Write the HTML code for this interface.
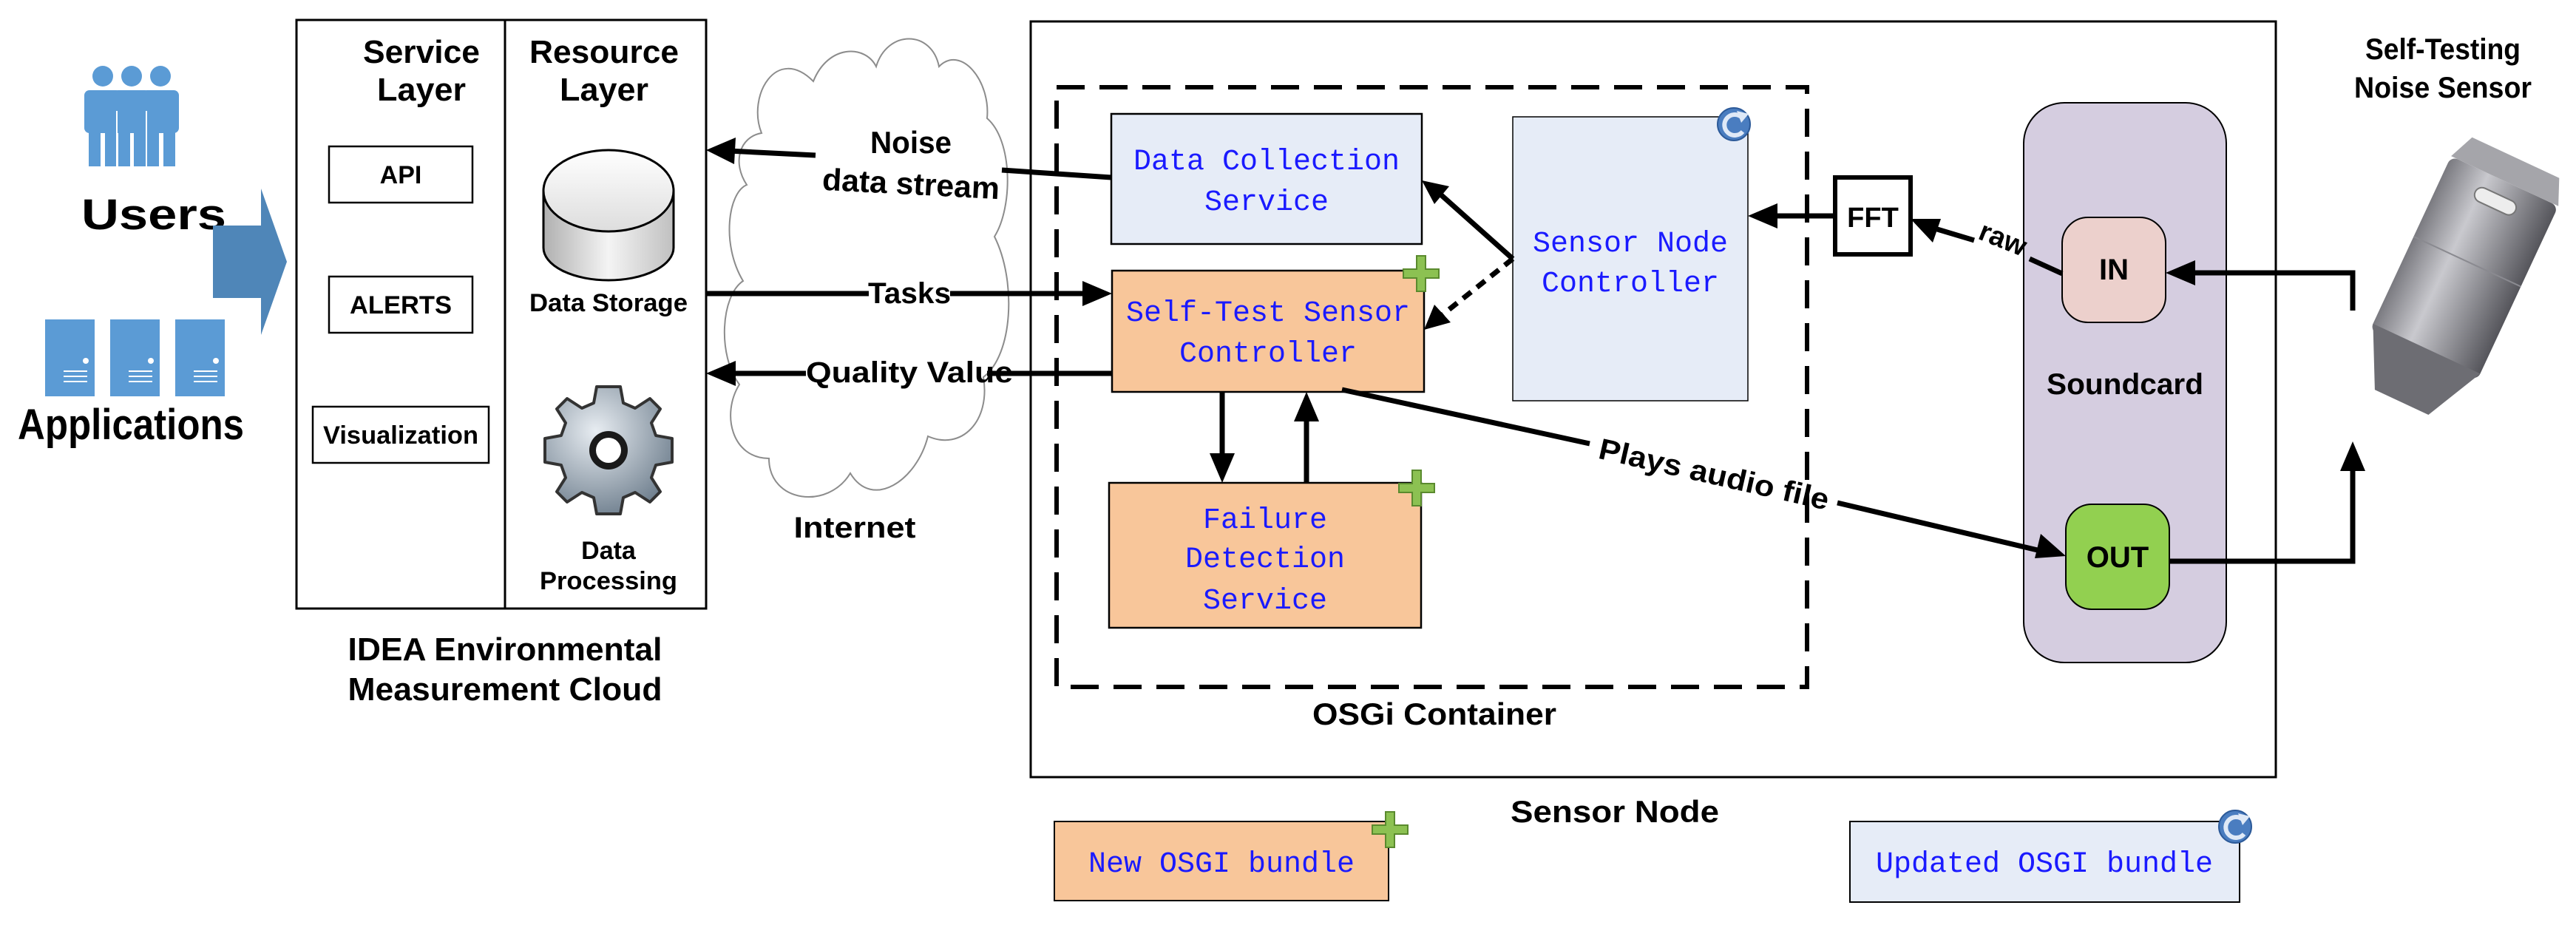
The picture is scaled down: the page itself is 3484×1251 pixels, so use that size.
<!DOCTYPE html>
<html><head><meta charset="utf-8"><style>
html,body{margin:0;padding:0;background:#fff;}
svg{display:block;}
.n{font-family:"Liberation Sans Narrow","Liberation Sans",sans-serif;font-weight:bold;fill:#000;}
.m{font-family:"Liberation Mono",monospace;fill:#1a1aff;font-size:40px;}
</style></head><body>
<svg width="3484" height="1251" viewBox="0 0 3484 1251" xmlns="http://www.w3.org/2000/svg">
<defs>
<linearGradient id="cyl" x1="0" x2="1"><stop offset="0" stop-color="#b0b0b0"/><stop offset="0.5" stop-color="#f4f4f4"/><stop offset="1" stop-color="#c0c0c0"/></linearGradient>
<linearGradient id="cyltop" x1="0" y1="0" x2="0" y2="1"><stop offset="0" stop-color="#fff"/><stop offset="1" stop-color="#ddd"/></linearGradient>
<radialGradient id="gear" cx="0.4" cy="0.35" r="0.7"><stop offset="0" stop-color="#e8edf2"/><stop offset="1" stop-color="#6f7f8e"/></radialGradient>
<linearGradient id="sens" x1="0" x2="1"><stop offset="0" stop-color="#7a7a80"/><stop offset="0.35" stop-color="#c9c9ce"/><stop offset="1" stop-color="#55555b"/></linearGradient>
</defs>

<g fill="#5b9bd5">
<circle cx="139" cy="103" r="14"/><circle cx="178" cy="103" r="14"/><circle cx="217" cy="103" r="14"/>
<rect x="114" y="122" width="50" height="58" rx="7"/><rect x="153" y="122" width="50" height="58" rx="7"/><rect x="192" y="122" width="50" height="58" rx="7"/>
<rect x="120" y="175" width="16" height="50"/><rect x="142" y="175" width="16" height="50"/>
<rect x="160" y="175" width="16" height="50"/><rect x="181" y="175" width="16" height="50"/>
<rect x="199" y="175" width="16" height="50"/><rect x="221" y="175" width="16" height="50"/>
</g>
<g stroke="#fff" stroke-width="2"><line x1="158" y1="150" x2="158" y2="225"/><line x1="198" y1="150" x2="198" y2="225"/></g>
<text class="n" x="110" y="310" font-size="58" textLength="196" lengthAdjust="spacingAndGlyphs" fill="#111">Users</text>

<g fill="#5b9bd5">
<rect x="61" y="432" width="67" height="104"/><rect x="149" y="432" width="67" height="104"/><rect x="237" y="432" width="67" height="104"/>
</g>
<g fill="#fff"><circle cx="116" cy="488" r="4"/><circle cx="204" cy="488" r="4"/><circle cx="292" cy="488" r="4"/></g>
<g stroke="#fff" stroke-width="2">
<line x1="86" y1="502" x2="118" y2="502"/><line x1="86" y1="509" x2="118" y2="509"/><line x1="86" y1="516" x2="118" y2="516"/>
<line x1="174" y1="502" x2="206" y2="502"/><line x1="174" y1="509" x2="206" y2="509"/><line x1="174" y1="516" x2="206" y2="516"/>
<line x1="262" y1="502" x2="294" y2="502"/><line x1="262" y1="509" x2="294" y2="509"/><line x1="262" y1="516" x2="294" y2="516"/>
</g>
<text class="n" x="24" y="594" font-size="58" textLength="306" lengthAdjust="spacingAndGlyphs" fill="#111">Applications</text>

<polygon points="288,305 353,305 353,255 388,354 353,453 353,403 288,403" fill="#4f86b8"/>

<rect x="401" y="27" width="554" height="796" fill="none" stroke="#000" stroke-width="3"/>
<line x1="683" y1="27" x2="683" y2="823" stroke="#000" stroke-width="3"/>
<text class="n" x="570" y="85" font-size="44" text-anchor="middle" textLength="158" lengthAdjust="spacingAndGlyphs">Service</text>
<text class="n" x="570" y="136" font-size="44" text-anchor="middle" textLength="120" lengthAdjust="spacingAndGlyphs">Layer</text>
<text class="n" x="817" y="85" font-size="44" text-anchor="middle" textLength="202" lengthAdjust="spacingAndGlyphs">Resource</text>
<text class="n" x="817" y="136" font-size="44" text-anchor="middle" textLength="120" lengthAdjust="spacingAndGlyphs">Layer</text>
<rect x="445" y="198" width="194" height="76" fill="#fff" stroke="#000" stroke-width="2.5"/>
<text class="n" x="542" y="248" font-size="34" text-anchor="middle">API</text>
<rect x="445" y="374" width="194" height="76" fill="#fff" stroke="#000" stroke-width="2.5"/>
<text class="n" x="542" y="424" font-size="34" text-anchor="middle" textLength="138" lengthAdjust="spacingAndGlyphs">ALERTS</text>
<rect x="423" y="550" width="238" height="76" fill="#fff" stroke="#000" stroke-width="2.5"/>
<text class="n" x="542" y="600" font-size="34" text-anchor="middle" textLength="210" lengthAdjust="spacingAndGlyphs">Visualization</text>
<path d="M735,258 L735,335 A88,44 0 0 0 911,335 L911,258" fill="url(#cyl)" stroke="#000" stroke-width="3"/>
<ellipse cx="823" cy="258" rx="88" ry="55" fill="url(#cyltop)" stroke="#000" stroke-width="3"/>
<text class="n" x="823" y="421" font-size="34" text-anchor="middle" textLength="214" lengthAdjust="spacingAndGlyphs">Data Storage</text>
<g transform="translate(823,609)">
<path d="M-16,-86 L16,-86 L20,-64 L36,-57 L56,-70 L70,-56 L58,-37 L64,-20 L86,-16 L86,16 L64,20 L58,37 L70,56 L56,70 L36,57 L20,64 L16,86 L-16,86 L-20,64 L-36,57 L-56,70 L-70,56 L-58,37 L-64,20 L-86,16 L-86,-16 L-64,-20 L-58,-37 L-70,-56 L-56,-70 L-36,-57 L-20,-64 Z" fill="url(#gear)" stroke="#333" stroke-width="4" stroke-linejoin="round"/>
<circle r="26" fill="#1a1a1a"/><circle r="17" fill="#fff"/>
</g>
<text class="n" x="823" y="756" font-size="34" text-anchor="middle">Data</text>
<text class="n" x="823" y="797" font-size="34" text-anchor="middle" textLength="186" lengthAdjust="spacingAndGlyphs">Processing</text>
<text class="n" x="683" y="893" font-size="44" text-anchor="middle" textLength="425" lengthAdjust="spacingAndGlyphs">IDEA Environmental</text>
<text class="n" x="683" y="947" font-size="44" text-anchor="middle" textLength="425" lengthAdjust="spacingAndGlyphs">Measurement Cloud</text>

<path d="M1030,180 C1010,130 1050,60 1100,110 C1120,60 1170,60 1185,90 C1200,40 1260,40 1270,90 C1300,60 1340,110 1335,160 C1370,190 1370,280 1345,320 C1375,380 1370,480 1330,510 C1340,570 1300,610 1255,590 C1240,650 1180,690 1150,640 C1120,690 1040,680 1040,620 C990,620 975,560 1000,520 C970,480 975,400 1005,380 C975,330 985,260 1010,250 C990,220 1000,185 1030,180 Z" fill="#fff" stroke="#8c8c8c" stroke-width="2"/>
<text class="n" x="1156" y="727" font-size="40" text-anchor="middle" textLength="165" lengthAdjust="spacingAndGlyphs">Internet</text>

<rect x="1394" y="29" width="1684" height="1022" fill="none" stroke="#000" stroke-width="3"/>
<rect x="1429" y="118" width="1015" height="811" fill="none" stroke="#000" stroke-width="6" stroke-dasharray="38,20"/>
<text class="n" x="1940" y="980" font-size="42" text-anchor="middle" textLength="330" lengthAdjust="spacingAndGlyphs">OSGi Container</text>
<text class="n" x="2184" y="1112" font-size="42" text-anchor="middle" textLength="282" lengthAdjust="spacingAndGlyphs">Sensor Node</text>

<rect x="1503" y="154" width="420" height="176" fill="#e6ecf7" stroke="#000" stroke-width="2.5"/>
<text class="m" x="1713" y="229" text-anchor="middle">Data Collection</text>
<text class="m" x="1713" y="284" text-anchor="middle">Service</text>
<rect x="1504" y="366" width="422" height="164" fill="#f8c69a" stroke="#000" stroke-width="2.5"/>
<text class="m" x="1715" y="434" text-anchor="middle">Self-Test Sensor</text>
<text class="m" x="1715" y="489" text-anchor="middle">Controller</text>
<rect x="1500" y="653" width="422" height="196" fill="#f8c69a" stroke="#000" stroke-width="2.5"/>
<text class="m" x="1711" y="714" text-anchor="middle">Failure</text>
<text class="m" x="1711" y="767" text-anchor="middle">Detection</text>
<text class="m" x="1711" y="823" text-anchor="middle">Service</text>
<rect x="2046" y="158" width="318" height="384" fill="#e6ecf7" stroke="#000" stroke-width="1.5"/>
<text class="m" x="2205" y="340" text-anchor="middle">Sensor Node</text>
<text class="m" x="2205" y="394" text-anchor="middle">Controller</text>
<rect x="2482" y="240" width="102" height="104" fill="#fff" stroke="#000" stroke-width="6"/>
<text class="n" x="2533" y="307" font-size="38" text-anchor="middle">FFT</text>

<rect x="2737" y="139" width="274" height="757" rx="55" fill="#d5cde0" stroke="#000" stroke-width="2"/>
<rect x="2789" y="294" width="140" height="142" rx="35" fill="#ecd0cc" stroke="#000" stroke-width="2"/>
<text class="n" x="2859" y="378" font-size="40" text-anchor="middle">IN</text>
<rect x="2794" y="682" width="140" height="142" rx="35" fill="#92d050" stroke="#000" stroke-width="2"/>
<text class="n" x="2864" y="767" font-size="40" text-anchor="middle">OUT</text>
<text class="n" x="2874" y="533" font-size="40" text-anchor="middle" textLength="212" lengthAdjust="spacingAndGlyphs">Soundcard</text>

<text class="n" x="3304" y="80" font-size="40" text-anchor="middle" textLength="210" lengthAdjust="spacingAndGlyphs">Self-Testing</text>
<text class="n" x="3304" y="132" font-size="40" text-anchor="middle" textLength="240" lengthAdjust="spacingAndGlyphs">Noise Sensor</text>
<g transform="rotate(25 3320 390)">
<rect x="3240" y="230" width="160" height="260" rx="10" fill="url(#sens)"/>
<path d="M3240,480 L3400,480 L3360,560 L3280,560 Z" fill="#6d6d73"/>
<path d="M3240,230 L3400,230 L3385,195 L3255,195 Z" fill="#a5a5aa"/>
<rect x="3290" y="250" width="60" height="20" rx="10" fill="#ededed" stroke="#777" stroke-width="2"/>
<line x1="3240" y1="350" x2="3400" y2="350" stroke="#8a8a90" stroke-width="2"/>
</g>

<g stroke="#000" stroke-width="7" fill="none">
<polyline points="1103,210 985,204"/>
<polyline points="1355,230 1503,240"/>
<polyline points="955,397 1175,397"/><polyline points="1285,397 1470,397"/>
<polyline points="1504,505 1335,505"/><polyline points="1090,505 990,505"/>
<polyline points="2046,350 1945,260"/>
<polyline points="2046,350 1948,428" stroke-dasharray="14,10"/>
<polyline points="2482,292 2400,292"/>
<polyline points="2789,370 2745,350"/><polyline points="2670,325 2620,310"/>
<polyline points="3182,420 3182,369 2965,369"/>
<polyline points="2934,759 3182,759 3182,630"/>
<polyline points="1815,527 2150,600"/><polyline points="2485,680 2760,745"/>
<polyline points="1653,530 1653,620"/>
<polyline points="1767,653 1767,565"/>
</g>
<g fill="#000">
<polygon points="955,203 995,186 993,222"/>
<polygon points="1504,397 1464,380 1464,414"/>
<polygon points="955,505 995,488 995,522"/>
<polygon points="1923,244 1960,252 1940,276"/>
<polygon points="1926,446 1940,412 1962,436"/>
<polygon points="2364,292 2404,275 2404,309"/>
<polygon points="2584,296 2625,296 2614,328"/>
<polygon points="2929,369 2969,352 2969,386"/>
<polygon points="3182,597 3165,637 3199,637"/>
<polygon points="2794,752 2752,755 2760,722"/>
<polygon points="1653,653 1636,613 1670,613"/>
<polygon points="1767,530 1750,570 1784,570"/>
</g>
<text class="n" x="1232" y="207" font-size="42" text-anchor="middle" textLength="110" lengthAdjust="spacingAndGlyphs">Noise</text>
<text class="n" x="1232" y="263" font-size="42" text-anchor="middle" transform="rotate(3 1232 250)" textLength="240" lengthAdjust="spacingAndGlyphs">data stream</text>
<text class="n" x="1230" y="410" font-size="40" text-anchor="middle" textLength="112" lengthAdjust="spacingAndGlyphs">Tasks</text>
<text class="n" x="1230" y="517" font-size="40" text-anchor="middle" textLength="280" lengthAdjust="spacingAndGlyphs">Quality Value</text>
<text class="n" x="2706" y="335" font-size="38" text-anchor="middle" transform="rotate(22 2706 330)">raw</text>
<text class="n" x="2318" y="655" font-size="40" text-anchor="middle" transform="rotate(12.8 2318 642)" textLength="318" lengthAdjust="spacingAndGlyphs">Plays audio file</text>

<rect x="1426" y="1111" width="452" height="107" fill="#f8c69a" stroke="#000" stroke-width="2"/>
<text class="m" x="1652" y="1179" text-anchor="middle">New OSGI bundle</text>
<rect x="2502" y="1111" width="527" height="109" fill="#e6ecf7" stroke="#000" stroke-width="2"/>
<text class="m" x="2765" y="1179" text-anchor="middle">Updated OSGI bundle</text>

<g fill="#8cc152" stroke="#5a8a2e" stroke-width="2">
<path d="M1916,346 h12 v18 h18 v12 h-18 v18 h-12 v-18 h-18 v-12 h18 z"/>
<path d="M1910,636 h12 v18 h18 v12 h-18 v18 h-12 v-18 h-18 v-12 h18 z"/>
<path d="M1874,1098 h12 v18 h18 v12 h-18 v18 h-12 v-18 h-18 v-12 h18 z"/>
</g>
<g>
<circle cx="2345" cy="168" r="22" fill="#4a7dc0" stroke="#2c5a99" stroke-width="2"/>
<path d="M2355,158 A14,14 0 1 0 2357,178" fill="none" stroke="#dfe9f7" stroke-width="6"/>
<polygon points="2349,150 2365,154 2355,166" fill="#dfe9f7"/>
<circle cx="3023" cy="1118" r="22" fill="#4a7dc0" stroke="#2c5a99" stroke-width="2"/>
<path d="M3033,1108 A14,14 0 1 0 3035,1128" fill="none" stroke="#dfe9f7" stroke-width="6"/>
<polygon points="3027,1100 3043,1104 3033,1116" fill="#dfe9f7"/>
</g>
</svg>
</body></html>
